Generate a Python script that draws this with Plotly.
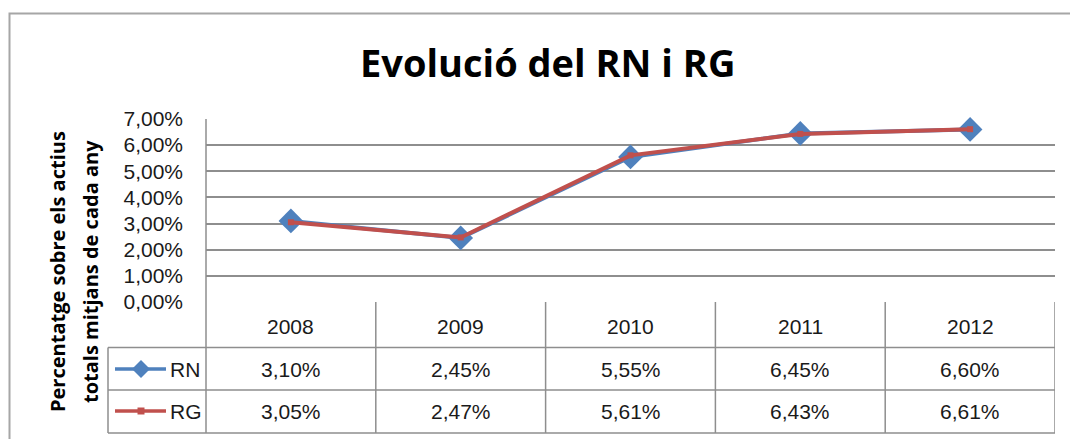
import plotly.graph_objects as go

# ---- data ----
years = ["2008", "2009", "2010", "2011", "2012"]
rn_values = [3.10, 2.45, 5.55, 6.45, 6.60]
rg_values = [3.05, 2.47, 5.61, 6.43, 6.61]
y_ticks = [0, 1, 2, 3, 4, 5, 6, 7]
title_text = "Evolució del RN i RG"
ytitle_line1 = "Percentatge sobre els actius"
ytitle_line2 = "totals mitjans de cada any"

W, H = 1070, 439
FONT = "Open Sans"
NUMFONT = "Liberation Sans"
BLUE = "#4F81BD"
RED = "#C0504D"
GRID = "#8E8E8E"


def X(px):
    return px / W


def Y(py):
    return 1 - py / H


def pct(v):
    return f"{v:.2f}".replace(".", ",") + "%"


PL, PR, PT, PB = 206, 1055, 119, 302
ROW1, ROW2, TB = 347.5, 390, 433

fig = go.Figure()
fig.add_trace(go.Scatter(
    x=list(range(len(years))), y=rn_values, name="RN", mode="lines+markers",
    line=dict(color=BLUE, width=4),
    marker=dict(symbol="diamond", size=19, color=BLUE),
    showlegend=False, cliponaxis=False))
fig.add_trace(go.Scatter(
    x=list(range(len(years))), y=rg_values, name="RG", mode="lines+markers",
    line=dict(color=RED, width=4),
    marker=dict(symbol="square", size=6, color=RED),
    showlegend=False, cliponaxis=False))

shapes = []
# outer chart border
shapes.append(dict(type="rect", xref="paper", yref="paper", x0=X(9.5), x1=X(1080),
                   y0=Y(450), y1=Y(13.5), line=dict(color="#A6A6A6", width=2)))
# plot-area left edge through the table
shapes.append(dict(type="line", xref="paper", yref="paper", x0=X(PL), x1=X(PL),
                   y0=Y(TB), y1=Y(PT), line=dict(color=GRID, width=1.5)))
# table vertical lines
for i in range(1, len(years) + 1):
    shapes.append(dict(type="line", xref="x", yref="paper", x0=i - 0.5, x1=i - 0.5,
                       y0=Y(TB), y1=Y(PB), line=dict(color=GRID, width=1.5)))
# table horizontal lines
for py in (ROW1, ROW2, TB):
    shapes.append(dict(type="line", xref="paper", yref="paper", x0=X(108), x1=X(PR),
                       y0=Y(py), y1=Y(py), line=dict(color=GRID, width=1.5)))
shapes.append(dict(type="line", xref="paper", yref="paper", x0=X(108), x1=X(108),
                   y0=Y(TB), y1=Y(ROW1), line=dict(color=GRID, width=1.5)))
# legend keys
for yc, col in ((369, BLUE), (411, RED)):
    shapes.append(dict(type="line", xref="paper", yref="paper", x0=X(115), x1=X(166),
                       y0=Y(yc), y1=Y(yc), line=dict(color=col, width=3.5)))
# diamond for RN
cx, cy, r = 141, 369, 9
shapes.append(dict(type="path", xref="paper", yref="paper",
                   path=f"M {X(cx)} {Y(cy - r)} L {X(cx + r)} {Y(cy)} L {X(cx)} {Y(cy + r)} L {X(cx - r)} {Y(cy)} Z",
                   fillcolor=BLUE, line=dict(width=0)))
# square for RG
cx, cy, r = 141, 411, 3.5
shapes.append(dict(type="rect", xref="paper", yref="paper", x0=X(cx - r), x1=X(cx + r),
                   y0=Y(cy + r), y1=Y(cy - r), fillcolor=RED, line=dict(width=0)))

ann = []
TF = dict(family=NUMFONT, size=21, color="#1A1A1A")
C = dict(showarrow=False, xanchor="center", yanchor="middle")
for i, yr in enumerate(years):
    ann.append(dict(x=i, xref="x", y=Y(326), yref="paper", text=yr, font=TF, **C))
    ann.append(dict(x=i, xref="x", y=Y(369), yref="paper", text=pct(rn_values[i]), font=TF, **C))
    ann.append(dict(x=i, xref="x", y=Y(411), yref="paper", text=pct(rg_values[i]), font=TF, **C))
ann.append(dict(x=X(168), xref="paper", y=Y(369), yref="paper", text="RN", xanchor="left",
                yanchor="middle", showarrow=False, font=TF))
ann.append(dict(x=X(168), xref="paper", y=Y(411), yref="paper", text="RG", xanchor="left",
                yanchor="middle", showarrow=False, font=TF))
# title
ann.append(dict(x=X(547), xref="paper", y=Y(62), yref="paper", text=f"<b>{title_text}</b>",
                font=dict(family=FONT, size=38, color="#000000"), **C))
# y-axis title (two lines)
YF = dict(family=FONT, size=20, color="#000000")
ann.append(dict(x=X(57), xref="paper", y=Y(272), yref="paper", text=f"<b>{ytitle_line1}</b>",
                textangle=-90, font=YF, **C))
ann.append(dict(x=X(90), xref="paper", y=Y(272), yref="paper", text=f"<b>{ytitle_line2}</b>",
                textangle=-90, font=YF, **C))

fig.update_layout(
    width=W, height=H, margin=dict(l=0, r=0, t=0, b=0, autoexpand=False),
    paper_bgcolor="white", plot_bgcolor="white",
    separators=",.",
    shapes=shapes, annotations=ann,
    xaxis=dict(domain=[X(PL), X(PR)], range=[-0.5, len(years) - 0.5], automargin=False,
               showticklabels=False, showgrid=False, zeroline=False, showline=False,
               fixedrange=True),
    yaxis=dict(domain=[Y(PB), Y(PT)], range=[0, 7], tickvals=y_ticks, automargin=False,
               ticktext=[pct(v) for v in y_ticks],
               tickfont=dict(family=NUMFONT, size=21, color="#1A1A1A"),
               showgrid=True, gridcolor=GRID, gridwidth=1.5, zeroline=False,
               showline=False, ticks="", ticklabelstandoff=22, fixedrange=True),
)

fig.write_html("out.html", config={"displayModeBar": False},
               post_script="document.body.style.margin='0';")
